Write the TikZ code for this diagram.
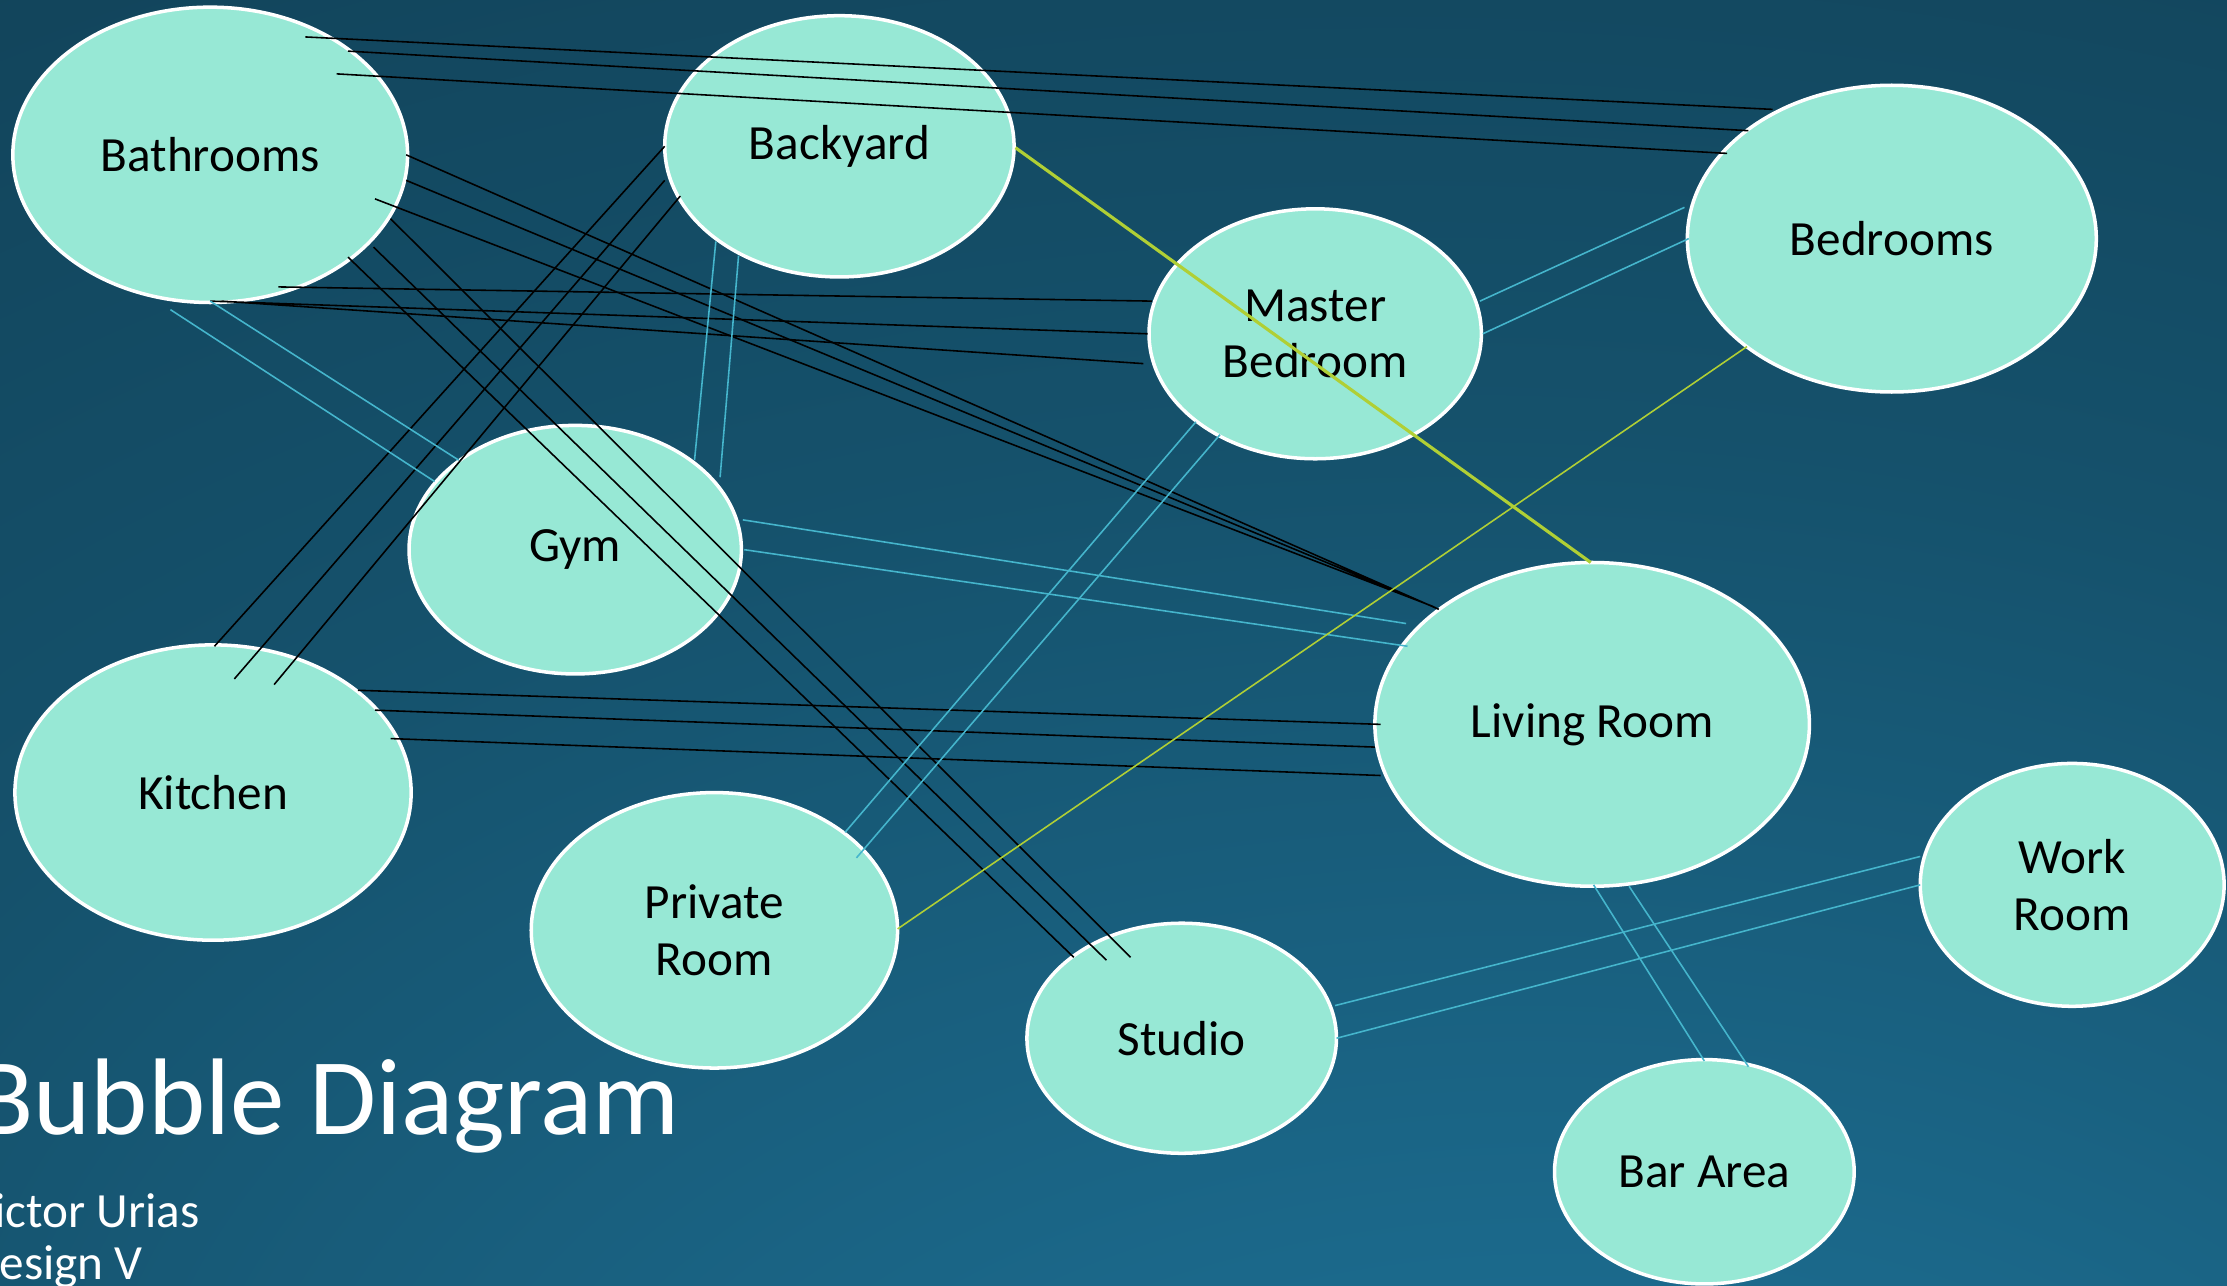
\documentclass[tikz,border=0pt]{standalone}
\usepackage{fontspec}
\setmainfont{Carlito}
\usetikzlibrary{shapes.geometric,calc}
\definecolor{mint}{HTML}{97E8D5}
\definecolor{bgdark}{HTML}{0E3447}
\definecolor{bgmid}{HTML}{134A62}
\definecolor{bglight}{HTML}{207AA2}
\definecolor{cyanline}{HTML}{45B5CC}
\definecolor{limeline}{HTML}{B0CF35}
\pgfdeclareradialshading{slideglow}{\pgfpoint{12bp}{-48bp}}{color(0bp)=(bglight);
  color(18bp)=(bgmid!40!bglight); color(38bp)=(bgmid!85!bglight); color(60bp)=(bgmid!60!bgdark);
  color(100bp)=(bgdark)}
\tikzset{
  room/.style={ellipse,draw=white,line width=1pt,fill=mint,inner sep=0pt,align=center,
    font=\fontsize{14}{16.1}\selectfont},
  blackline/.style={black,line width=0.45pt},
  cyanlink/.style={cyanline,line width=0.45pt},
  titletext/.style={anchor=base east,text=white,inner sep=0pt}
}
\begin{document}
\begin{tikzpicture}[x=0.014203cm,y=-0.014203cm]
\useasboundingbox (0,0) rectangle (1568,905.4);
\shade[shading=slideglow] (0,0) rectangle (1568,905.4);
\node[room,minimum width=3.948cm,minimum height=2.954cm] (bath) at (148,109) {Bathrooms};
\node[room,minimum width=3.494cm,minimum height=2.613cm] (back) at (591,103) {Backyard};
\node[room,minimum width=4.090cm,minimum height=3.068cm] (bed) at (1332,168) {Bedrooms};
\node[room,minimum width=3.324cm,minimum height=2.500cm] (mast) at (926,235) {Master\\Bedroom};
\node[room,minimum width=3.324cm,minimum height=2.486cm] (gym) at (405,387) {Gym};
\node[room,minimum width=4.346cm,minimum height=3.238cm] (liv) at (1121,510) {Living Room};
\node[room,minimum width=3.963cm,minimum height=2.954cm] (kit) at (150,558) {Kitchen};
\node[room,minimum width=3.664cm,minimum height=2.755cm] (priv) at (503,655) {Private\\Room};
\node[room,minimum width=3.096cm,minimum height=2.301cm] (stud) at (832,731) {Studio};
\node[room,minimum width=3.039cm,minimum height=2.429cm] (work) at (1459,623) {Work\\Room};
\node[room,minimum width=2.997cm,minimum height=2.244cm] (bar) at (1200,825) {Bar Area};
\node[titletext,font=\fontsize{31}{37}\selectfont] (title) at (479,799) {Bubble Diagram};
\node[titletext,font=\fontsize{14}{16}\selectfont] (author) at (141,864) {Victor Urias};
\node[titletext,font=\fontsize{14}{16}\selectfont] (course) at (101,901) {Design V};
\draw[blackline]($(bath)+(67,-83)$)--($(bed)+(-84,-91)$)($(bath)+(97,-73)$)--($(bed)+(-101,-76)$)
  ($(bath)+(89,-57)$)--($(bed)+(-116,-60)$);
\draw[blackline]($(bath)+(48,93)$)--($(mast)+(-115,-23)$)($(bath)+(0,103)$)--($(mast)+(-118,0)$)
  ($(bath)+(8,103)$)--($(mast)+(-121,21)$);
\draw[blackline]($(bath)+(138,0)$)--($(liv)+(-108,-81)$)($(bath)+(138,18)$)--($(liv)+(-110,-82)$)
  ($(bath)+(116,31)$)--($(liv)+(-112,-83)$);
\draw[blackline]($(bath)+(127,45)$)--($(stud)+(-36,-57)$)($(bath)+(115,65)$)--($(stud)+(-53,-55)$)
  ($(bath)+(97,72)$)--($(stud)+(-76,-57)$);
\draw[blackline]($(kit)+(1,-103)$)--($(back)+(-123,0)$)($(kit)+(15,-80)$)--($(back)+(-123,24)$)
  ($(kit)+(43,-76)$)--($(back)+(-112,35)$);
\draw[blackline]($(kit)+(102,-72)$)--($(liv)+(-149,0)$)($(kit)+(114,-58)$)--($(liv)+(-153,16)$)
  ($(kit)+(125,-38)$)--($(liv)+(-149,36)$);
\draw[cyanlink]($(bath)+(-28,109)$)--($(gym)+(-99,-48)$)($(bath)+(0,103)$)--($(gym)+(-82,-63)$);
\draw[cyanlink]($(back)+(-87,67)$)--($(gym)+(84,-63)$)($(back)+(-71,77)$)--($(gym)+(102,-51)$);
\draw[cyanlink]($(gym)+(118,-21)$)--($(liv)+(-131,-71)$)($(gym)+(119,0)$)--($(liv)+(-130,-55)$);
\draw[cyanlink]($(mast)+(116,-23)$)--($(bed)+(-146,-22)$)($(mast)+(118,0)$)--($(bed)+(-143,0)$);
\draw[cyanlink]($(mast)+(-84,62)$)--($(priv)+(92,-69)$)($(mast)+(-67,71)$)--($(priv)+(100,-51)$);
\draw[cyanlink]($(liv)+(1,113)$)--($(bar)+(0,-78)$)($(liv)+(26,114)$)--($(bar)+(31,-74)$);
\draw[cyanlink]($(stud)+(108,-23)$)--($(work)+(-107,-20)$)($(stud)+(109,0)$)--($(work)+(-107,0)$);
\draw[limeline,line width=0.9pt]($(back)+(124,1)$)--($(liv)+(-1,-114)$);
\draw[limeline,line width=0.45pt]($(priv)+(129,-1)$)--($(bed)+(-102,76)$);
\end{tikzpicture}
\end{document}
